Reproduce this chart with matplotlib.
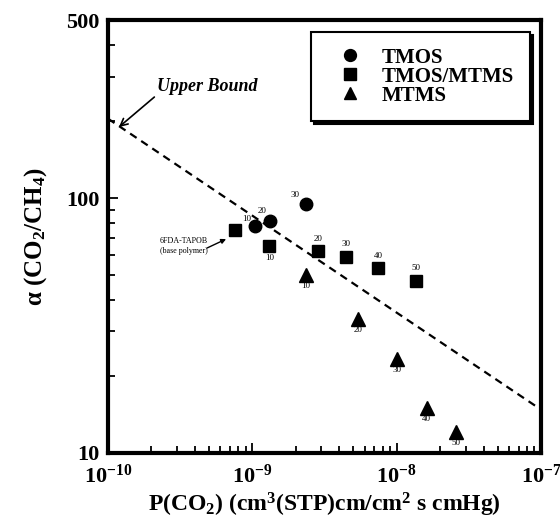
import matplotlib
matplotlib.use("Agg")
import matplotlib.pyplot as plt
from matplotlib.ticker import FixedLocator, NullFormatter, LogLocator

plt.rcParams['font.family'] = ['Liberation Serif', 'DejaVu Serif']
plt.rcParams['mathtext.fontset'] = 'custom'
plt.rcParams['mathtext.rm'] = 'Liberation Serif:bold'
plt.rcParams['mathtext.it'] = 'Liberation Serif:italic:bold'
plt.rcParams['mathtext.bf'] = 'Liberation Serif:bold'

# Data
tmos_p = [1.04e-9, 1.33e-9, 2.36e-9]
tmos_a = [78, 81.5, 94.6]
tmos_lbl = ['10', '20', '30']

mix_p = [7.6e-10, 1.31e-9, 2.84e-9, 4.43e-9, 7.43e-9, 1.37e-8]
mix_a = [75, 65, 62, 58.6, 53, 47.3]
mix_lbl = ['', '10', '20', '30', '40', '50']

mtms_p = [2.36e-9, 5.37e-9, 1.01e-8, 1.61e-8, 2.57e-8]
mtms_a = [49.9, 33.5, 23.4, 15.0, 12.1]
mtms_lbl = ['10', '20', '30', '40', '50']

bound_p = [1e-10, 1e-7]
bound_a = [205, 14.8]

xticks = [1e-10, 1e-9, 1e-8, 1e-7]
xticklabels = [r'$\mathrm{10^{-10}}$', r'$\mathrm{10^{-9}}$', r'$\mathrm{10^{-8}}$', r'$\mathrm{10^{-7}}$']
yticks = [10, 100, 500]
yticklabels = ['10', '100', '500']

fig = plt.figure(figsize=(5.6, 5.21), dpi=100)
ax = fig.add_axes([108/560, 68/521, 433/560, 433/521])
ax.set_xscale('log')
ax.set_yscale('log')
ax.set_xlim(1e-10, 1e-7)
ax.set_ylim(10, 500)

ax.plot(bound_p, bound_a, ls=(0, (3.5, 2.5)), color='black', lw=1.6, zorder=1)

ms = 9
ax.plot(tmos_p, tmos_a, 'o', color='black', ms=ms, ls='none', label='TMOS', zorder=3)
ax.plot(mix_p, mix_a, 's', color='black', ms=ms - 0.5, ls='none', label='TMOS/MTMS', zorder=3)
ax.plot(mtms_p, mtms_a, '^', color='black', ms=ms + 0.5, ls='none', label='MTMS', zorder=3)

fs_small = 6.5
tmos_off = [(-8, 7), (-8, 10), (-11, 9)]
for p, a, t, o in zip(tmos_p, tmos_a, tmos_lbl, tmos_off):
    ax.annotate(t, (p, a), xytext=o, textcoords='offset pixels', ha='center', va='center', fontsize=fs_small)
mix_off = [(0, 0), (0, -12), (0, 12), (0, 13), (0, 12), (0, 13)]
for p, a, t, o in zip(mix_p, mix_a, mix_lbl, mix_off):
    if t:
        ax.annotate(t, (p, a), xytext=o, textcoords='offset pixels', ha='center', va='center', fontsize=fs_small)
for p, a, t in zip(mtms_p, mtms_a, mtms_lbl):
    ax.annotate(t, (p, a), xytext=(0, -11), textcoords='offset pixels', ha='center', va='center', fontsize=fs_small)

# Upper bound annotation
ax.annotate('Upper Bound', xy=(1.19e-10, 190), xytext=(2.19e-10, 275),
            fontsize=13, fontweight='bold', fontstyle='italic', ha='left', va='center',
            arrowprops=dict(arrowstyle='->', color='black', lw=1.2, shrinkA=0, shrinkB=0,
                            relpos=(0.0, 0.0)))

# Base polymer annotation
ax.text(3.37e-10, 64.9, '6FDA-TAPOB\n(base polymer)', fontsize=5.8, ha='center', va='center',
        linespacing=1.3)
ax.annotate('', xy=(6.58e-10, 69.1), xytext=(4.85e-10, 63.7),
            arrowprops=dict(arrowstyle='-|>', color='black', lw=1.0, shrinkA=0, shrinkB=0,
                            mutation_scale=7))

ax.xaxis.set_major_locator(FixedLocator(xticks))
ax.set_xticklabels(xticklabels)
ax.xaxis.set_minor_locator(LogLocator(base=10, subs=range(2, 10)))
ax.xaxis.set_minor_formatter(NullFormatter())
ax.yaxis.set_major_locator(FixedLocator(yticks))
ax.set_yticklabels(yticklabels)
ax.yaxis.set_minor_locator(LogLocator(base=10, subs=range(2, 10)))
ax.yaxis.set_minor_formatter(NullFormatter())

ax.tick_params(which='both', direction='in', top=False, right=False, width=1.3)
ax.tick_params(which='major', length=7, labelsize=16)
ax.tick_params(axis='x', which='major', pad=8)
ax.tick_params(axis='y', which='major', pad=6)
ax.tick_params(which='minor', length=5)
for lbl in ax.get_yticklabels():
    lbl.set_fontweight('bold')
for sp in ax.spines.values():
    sp.set_linewidth(3)

ax.set_xlabel(r'P(CO$_\mathrm{2}$) (cm$^\mathrm{3}$(STP)cm/cm$^\mathrm{2}$ s cmHg)',
              fontsize=17, fontweight='bold')
ax.xaxis.set_label_coords(0.5, -(505 - 453) / 433)
ax.xaxis.label.set_va('center')
ax.set_ylabel(r'$\mathrm{\alpha}$ (CO$_\mathrm{2}$/CH$_\mathrm{4}$)', fontsize=18, fontweight='bold')
ax.yaxis.set_label_coords(-(108 - 36) / 433, 0.5)
ax.yaxis.label.set_va('center')

leg = ax.legend(loc='upper right', bbox_to_anchor=(530/560, (521-32)/521), bbox_transform=fig.transFigure,
                frameon=True, fancybox=False, shadow={'color': 'black', 'alpha': 1}, edgecolor='black',
                prop={'family': 'Liberation Serif', 'weight': 'bold', 'size': 15},
                handletextpad=0.45, labelspacing=-0.05, borderpad=0.75, borderaxespad=0,
                handlelength=2.2, markerscale=0.95)
leg.get_frame().set_linewidth(1.5)

fig.savefig('out.png', dpi=100)
